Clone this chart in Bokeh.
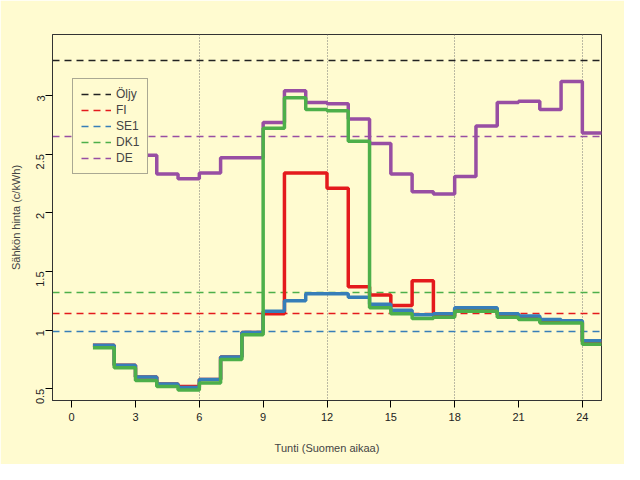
from bokeh.plotting import figure
from bokeh.embed import file_html
from bokeh.resources import INLINE
from bokeh.models import Range1d, Label, FixedTicker, Legend, LegendItem

hours = list(range(1, 26))
FI = [0.87, 0.70, 0.60, 0.54, 0.52, 0.58, 0.77, 0.98, 1.14, 2.34, 2.34, 2.21, 1.37, 1.30, 1.21, 1.42, 1.12, 1.18, 1.18, 1.13, 1.11, 1.08, 1.07, 0.90]
SE1 = [0.87, 0.70, 0.60, 0.54, 0.51, 0.58, 0.77, 0.98, 1.16, 1.25, 1.31, 1.31, 1.28, 1.22, 1.17, 1.13, 1.14, 1.19, 1.19, 1.14, 1.12, 1.09, 1.08, 0.91]
DK1 = [0.85, 0.68, 0.57, 0.52, 0.49, 0.55, 0.75, 0.96, 2.72, 2.98, 2.88, 2.87, 2.61, 1.19, 1.14, 1.10, 1.11, 1.16, 1.16, 1.11, 1.09, 1.06, 1.06, 0.88]
DE = [2.55, 2.50, 2.49, 2.33, 2.29, 2.34, 2.47, 2.47, 2.77, 3.04, 2.94, 2.93, 2.80, 2.59, 2.33, 2.18, 2.16, 2.31, 2.74, 2.94, 2.95, 2.88, 3.12, 2.68]
means = {"Öljy": 3.30, "FI": 1.14, "SE1": 0.99, "DK1": 1.32, "DE": 2.65}
colors = {"Öljy": "#222222", "FI": "#E41A1C", "SE1": "#377EB8", "DK1": "#4DAF4A", "DE": "#984EA3"}
series = [("DE", DE), ("FI", FI), ("SE1", SE1), ("DK1", DK1)]
xticks = [0, 3, 6, 9, 12, 15, 18, 21, 24]
yticks = [0.5, 1.0, 1.5, 2.0, 2.5, 3.0]
vgrid = [6, 12, 18, 24]

bg = "#FFFBD0"
font = "Liberation Sans"
p = figure(width=624, height=464, output_backend="svg", toolbar_location=None,
           x_range=Range1d(-0.9, 24.9), y_range=Range1d(0.40, 3.52),
           min_border_left=52, min_border_right=23, min_border_top=34, min_border_bottom=64)
p.background_fill_color = bg
p.border_fill_color = bg
p.outline_line_color = "#333333"
p.grid.visible = False

p.vspan(x=vgrid, line_color="#777777", line_dash="1 2", line_width=1)

items = []
for k in ["Öljy", "FI", "SE1", "DK1", "DE"]:
    r = p.hspan(y=[means[k]], line_color=colors[k], line_dash="7 5", line_width=1.5)
    items.append(LegendItem(label=k, renderers=[r]))

for k, v in series:
    p.step(hours, v + [v[-1]], mode="after", line_color=colors[k], line_width=3.5)

for ax in (p.xaxis[0], p.yaxis[0]):
    ax.major_tick_out = 7
    ax.major_tick_in = 0
    ax.minor_tick_line_color = None
    ax.axis_line_color = "#333333"
    ax.major_label_text_font = font
    ax.major_label_text_font_size = "11px"
    ax.major_label_text_color = "#222222"
    ax.axis_label_text_font = font
    ax.axis_label_text_font_size = "11px"
    ax.axis_label_text_font_style = "normal"
p.xaxis.ticker = FixedTicker(ticks=xticks)
p.yaxis.ticker = FixedTicker(ticks=yticks)
p.yaxis.major_label_orientation = 1.5708
p.xaxis.axis_label = "Tunti (Suomen aikaa)"
p.yaxis.axis_label = "Sähkön hinta (c/kWh)"
p.xaxis.axis_label_standoff = 18
p.yaxis.axis_label_standoff = 8

leg = Legend(items=items, location=(20, 226), background_fill_color=bg, background_fill_alpha=1,
             border_line_color="#555555", label_text_font=font, label_text_font_size="12px",
             glyph_width=30, label_height=14, glyph_height=14, spacing=2, padding=8, margin=0)
p.add_layout(leg)

p.add_layout(Label(x=275, y=384, x_units="screen", y_units="screen", text="Sähkön hinta Suomesta Saksaan 2015-06-13",
                   text_align="center", text_font=font, text_font_size="14px", text_font_style="bold"))

open("out.html", "w").write(file_html(p, INLINE))
